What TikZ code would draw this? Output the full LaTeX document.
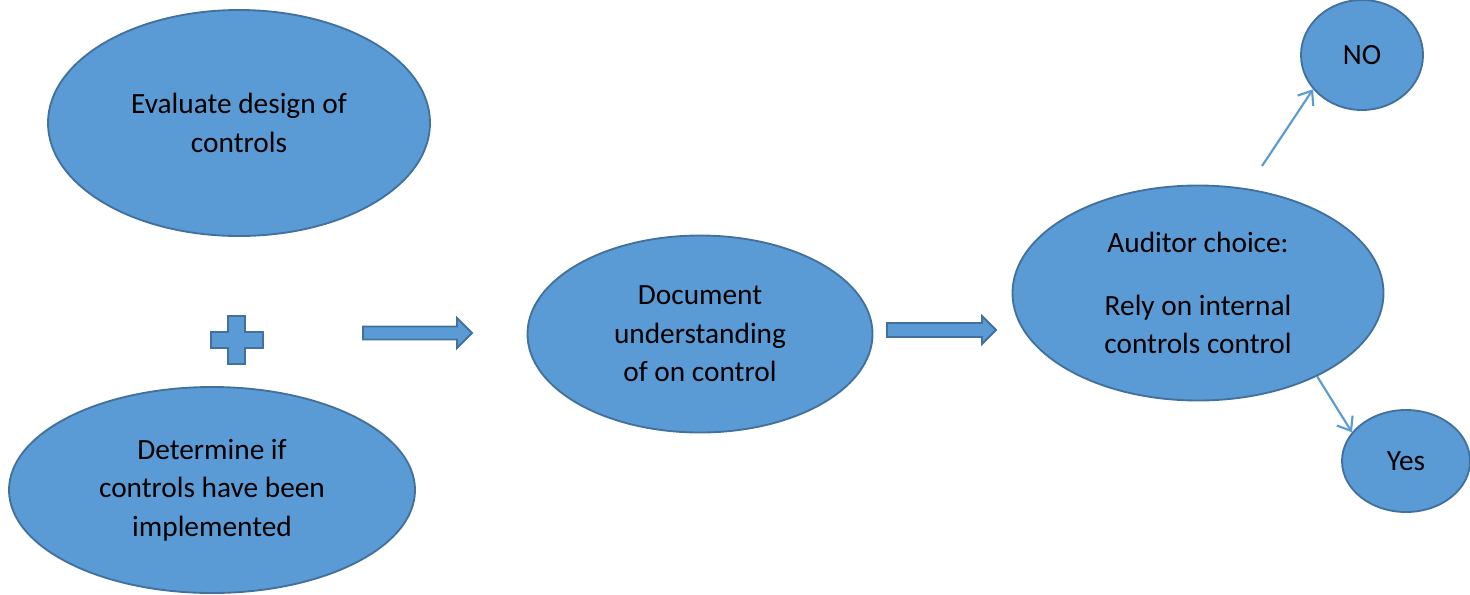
\documentclass[tikz,border=0pt]{standalone}
\usepackage{fontspec}
\setmainfont{Carlito}
\usepackage{tikz}
\usetikzlibrary{shapes.geometric, arrows.meta}

\definecolor{bubble}{HTML}{5B9BD5}
\definecolor{rim}{HTML}{41719C}

\begin{document}
\begin{tikzpicture}[x = 0.75pt, y = -0.75pt,
  bubble/.style = {ellipse, draw = rim, fill = bubble, line width = 1.4pt,
    inner sep = 0pt, align = center, font = \fontsize{22}{28.9}\selectfont},
  blockarrow/.style = {draw = rim, fill = bubble, line width = 1.4pt},
  link/.style = {draw = bubble, line width = 1.6pt,
    -{Straight Barb[length = 9pt, width = 14pt, line width = 1.6pt]}}]
\useasboundingbox (0,0) rectangle (1470,594);

\node[bubble, minimum width = 286.5pt, minimum height = 169.5pt] (evaluate) at (239,123) {Evaluate design of\\controls};
\node[bubble, minimum width = 304.5pt, minimum height = 154.5pt] (determine) at (212,490) {Determine if\\controls have been\\implemented};
\node[bubble, minimum width = 258.75pt, minimum height = 147.75pt] (document) at (700,334) {Document\\understanding\\of on control};
\node[bubble, minimum width = 278.25pt, minimum height = 161.25pt] (auditor) at (1198,293) {Auditor choice:\\[18pt]Rely on internal\\controls control};
\node[bubble, minimum width = 91.5pt, minimum height = 82.5pt] (no) at (1362,55) {NO};
\node[bubble, minimum width = 96pt, minimum height = 76.5pt] (yes) at (1406,461) {Yes};

% plus sign
\draw[blockarrow] (228,316) -- (245,316) -- (245,332) -- (263,332) -- (263,348)
  -- (245,348) -- (245,364) -- (228,364) -- (228,348) -- (211,348)
  -- (211,332) -- (228,332) -- cycle;

% block arrows
\draw[blockarrow] (363,326.5) -- (457,326.5) -- (457,318) -- (472,333)
  -- (457,348) -- (457,339.5) -- (363,339.5) -- cycle;
\draw[blockarrow] (887,323) -- (982,323) -- (982,316) -- (996,330)
  -- (982,344) -- (982,337) -- (887,337) -- cycle;

\coordinate (noFrom) at (1262,166);
\draw[link] (noFrom) -- (no.215);
\draw[link] (auditor.-35) -- (yes.152.6);
\end{tikzpicture}
\end{document}
